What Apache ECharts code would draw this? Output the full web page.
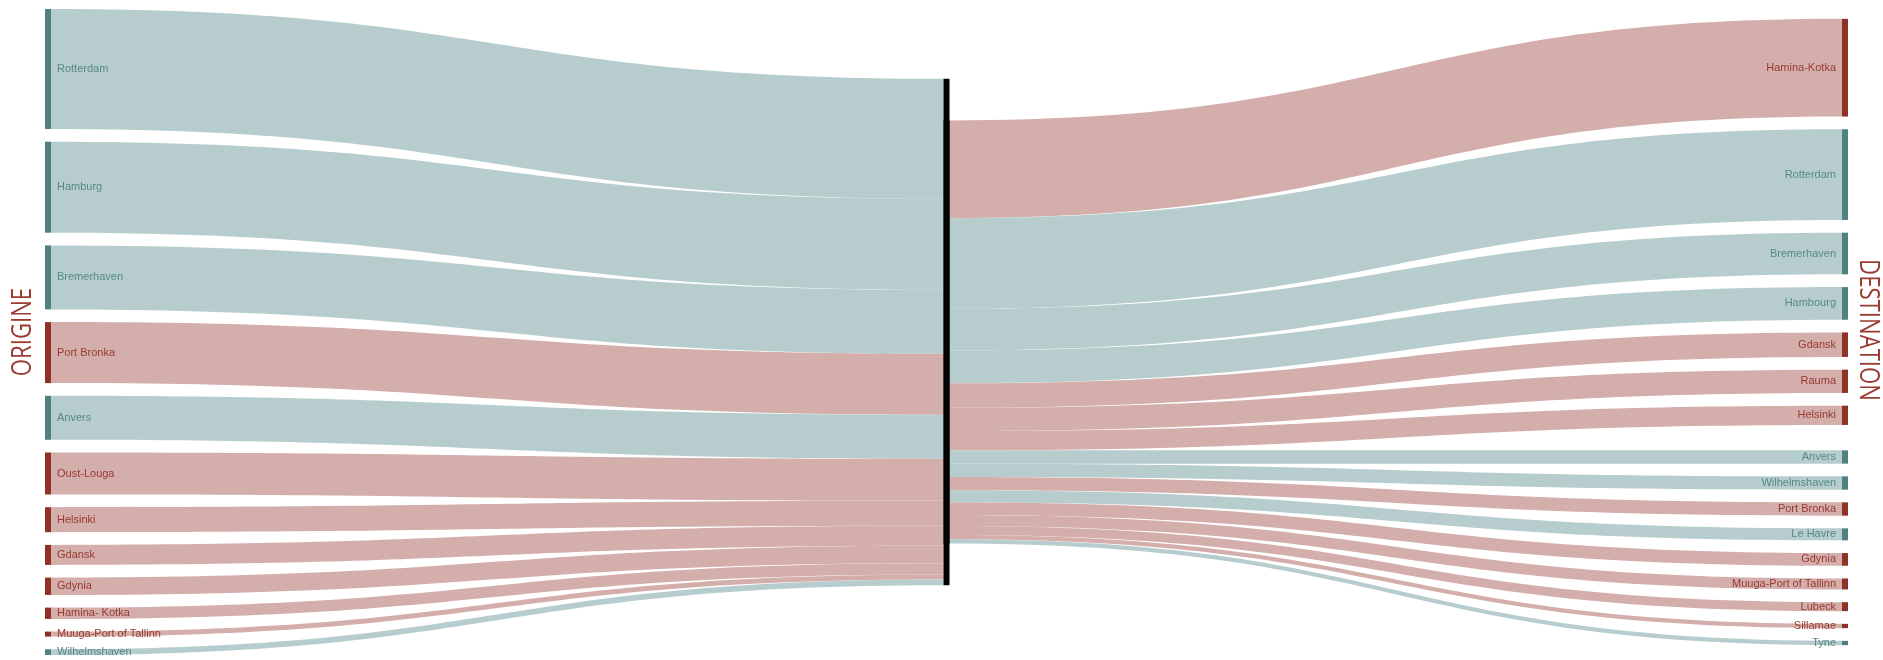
<!DOCTYPE html>
<html lang="fr">
<head>
    <meta charset="UTF-8">
    <title>Origine - Destination</title>
    <script src="https://cdn.jsdelivr.net/npm/echarts@6/dist/echarts.min.js"></script>
</head>
<body>
<style>
    html, body {
        margin: 0;
        padding: 0;
        background: #fff;
    }

    #main {
        width: 1883px;
        height: 660px;
    }
</style>
<div id="main"></div>
<script type="text/javascript">
    // ports d'origine (de haut en bas)
    var originPorts = ['Rotterdam', 'Hamburg', 'Bremerhaven', 'Port Bronka', 'Anvers', 'Oust-Louga',
        'Helsinki', 'Gdansk', 'Gdynia', 'Hamina- Kotka', 'Muuga-Port of Tallinn', 'Wilhelmshaven']
    var originVolumes = [120, 91, 64, 61, 44, 42, 25, 20, 17.3, 11.3, 5, 5.7]
    var originZones = ['nord', 'nord', 'nord', 'baltique', 'nord', 'baltique',
        'baltique', 'baltique', 'baltique', 'baltique', 'baltique', 'nord']

    // ports de destination ('' = emplacement vide)
    var destPorts = ['Hamina-Kotka', 'Rotterdam', 'Bremerhaven', 'Hambourg', 'Gdansk', 'Rauma', 'Helsinki', '',
        'Anvers', 'Wilhelmshaven', 'Port Bronka', 'Le Havre', 'Gdynia', 'Muuga-Port of Tallinn', 'Lubeck',
        'Sillamae', 'Tyne']
    var destVolumes = [97.7, 90.7, 41.7, 32.7, 24.5, 23.3, 19.3, 0,
        13.3, 13.3, 13.3, 12, 12.7, 11, 9, 4.3, 4.3]
    var destZones = ['baltique', 'nord', 'nord', 'nord', 'baltique', 'baltique', 'baltique', 'nord',
        'nord', 'nord', 'baltique', 'nord', 'baltique', 'baltique', 'baltique', 'baltique', 'nord']

    var nodeColor = {nord: '#4e8280', baltique: '#8e3228'}
    var linkColor = {nord: '#b7cdcd', baltique: '#d4aeab'}
    var labelColor = {nord: '#568987', baltique: '#983a32'}
    var font = "'Liberation Sans', Arial, sans-serif"

    var box = {left: 45, top: 9, width: 1803, height: 646}
    var gap = 12.7

    function sum(arr) {
        return arr.reduce((a, b) => a + b, 0)
    }

    // same scale rule as the sankey layout: the tightest column wins
    var sumO = sum(originVolumes)
    var sumD = sum(destVolumes)
    var ky = Math.min(
        (box.height - (originVolumes.length - 1) * gap) / sumO,
        (box.height - (destVolumes.length - 1) * gap) / sumD,
        box.height / sumO
    )

    // right column centered in the box
    var destTotal = sumD * ky + (destVolumes.length - 1) * gap
    var acc = (box.height - destTotal) / 2
    var destY = destVolumes.map(v => {
        var y = acc
        acc += v * ky + gap
        return y
    })

    var nodes = []
    var links = []
    originPorts.forEach((p, i) => {
        nodes.push({
            name: 'O-' + p,
            depth: 0,
            itemStyle: {color: nodeColor[originZones[i]]},
            label: {position: 'right', distance: 6, color: labelColor[originZones[i]], formatter: p}
        })
        links.push({
            source: 'O-' + p,
            target: 'IN',
            value: originVolumes[i],
            lineStyle: {color: linkColor[originZones[i]]}
        })
    })
    // the black hub: one node for what comes in, one for what goes out, same place
    nodes.push({
        name: 'IN', depth: 1,
        localY: (box.height - sumO * ky) / 2 / box.height,
        itemStyle: {color: '#000'}, label: {show: false}
    })
    nodes.push({
        name: 'OUT', depth: 1.0001,
        localY: (box.height - sumD * ky) / 2 / box.height,
        itemStyle: {color: '#000'}, label: {show: false}
    })
    destPorts.forEach((p, i) => {
        nodes.push({
            name: 'D-' + p,
            depth: 2,
            localY: destY[i] / box.height,
            itemStyle: {color: nodeColor[destZones[i]], opacity: p ? 1 : 0},
            label: {show: !!p, position: 'left', distance: 6, color: labelColor[destZones[i]], formatter: p}
        })
        if (destVolumes[i] > 0) {
            links.push({
                source: 'OUT',
                target: 'D-' + p,
                value: destVolumes[i],
                lineStyle: {color: linkColor[destZones[i]]}
            })
        }
    })

    var titleStyle = {
        fill: '#9b3b32',
        fontSize: 27,
        fontWeight: 'normal',
        fontFamily: "'Open Sans', sans-serif",
        align: 'center',
        verticalAlign: 'middle'
    }

    var option = {
        animation: false,
        graphic: [
            {type: 'text', x: 23, y: 332, rotation: Math.PI / 2, scaleX: 0.82,
                style: Object.assign({text: 'ORIGINE'}, titleStyle)},
            {type: 'text', x: 1868, y: 330, rotation: -Math.PI / 2, scaleX: 0.82,
                style: Object.assign({text: 'DESTINATION'}, titleStyle)}
        ],
        series: [{
            type: 'sankey',
            left: box.left,
            top: box.top,
            width: box.width,
            height: box.height,
            nodeWidth: 6,
            nodeGap: gap,
            nodeAlign: 'left',
            layoutIterations: 0,
            draggable: false,
            emphasis: {disabled: true},
            label: {fontFamily: font, fontSize: 11},
            lineStyle: {opacity: 1, curveness: 0.5},
            data: nodes,
            links: links
        }]
    }

    var myChart = echarts.init(document.getElementById('main'))
    myChart.setOption(option)
</script>
</body>
</html>
